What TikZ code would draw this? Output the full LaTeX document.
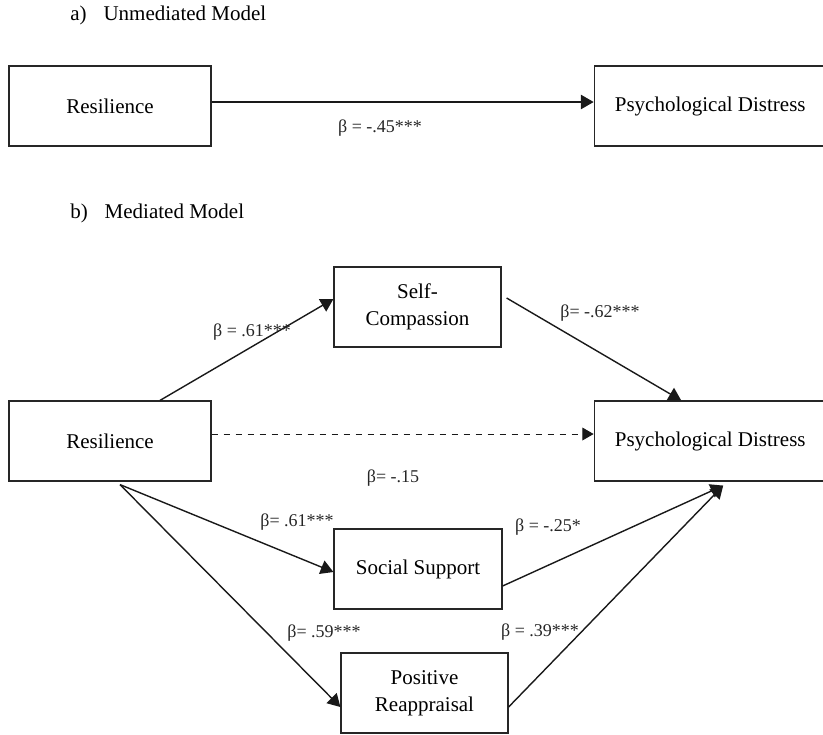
\documentclass[tikz,border=0pt]{standalone}
\usepackage{fontspec}
\setmainfont{Liberation Serif}
\usetikzlibrary{arrows}
\usetikzlibrary{positioning}
\tikzstyle{var}=[rectangle, draw=black!85, line width=0.6pt, minimum height=40pt, font=\fontsize{10.5}{13.5}\selectfont, align=center, inner sep=0pt]
\tikzstyle{path}=[->, line width=0.7pt, black!90]
\tikzstyle{coef}=[font=\fontsize{9}{11}\selectfont, inner sep=0pt, black!85]
\tikzstyle{title}=[font=\fontsize{10.5}{13.5}\selectfont, anchor=west, inner sep=0pt]

\begin{document}
\begin{tikzpicture}[>=triangle 60, x=0.5pt, y=-0.5pt]
    \clip (0,0) rectangle (823,734);
    % a) unmediated
    \node[title] (ta) at (70,15) {a)\hspace{0.8em}Unmediated Model};
    \node[var, minimum width=101pt] (resa) at (110,106) {Resilience};
    \node[var, minimum width=116pt, right=191pt of resa] (pda) {Psychological Distress};
    \draw[path] ([yshift=2pt]resa.east) -- ([yshift=2pt]pda.west);
    \node[coef] (ca) at (380,128) {β = -.45***};

    % b) mediated
    \node[title] (tb) at (70,213) {b)\hspace{0.8em}Mediated Model};
    \node[var, minimum width=101pt] (resb) at (110,441) {Resilience};
    \node[var, minimum width=116pt, right=191pt of resb] (pdb) {Psychological Distress};
    \node[var, minimum width=83.5pt] (sc) at (417.5,307) {Self-\\Compassion};
    \node[var, minimum width=84pt] (ss) at (418,569) {Social Support};
    \node[var, minimum width=83.5pt] (pr) at (424.5,693) {Positive\\Reappraisal};

    \draw[path] ([xshift=25pt]resb.north) -- ([yshift=4pt]sc.west);
    \draw[path] ([xshift=2.5pt,yshift=4.5pt]sc.east) -- ([xshift=-14.5pt]pdb.north);
    \draw[path, dashed, line width=0.5pt] ([yshift=3.5pt]resb.east) -- ([yshift=3.5pt]pdb.west);
    \draw[path] ([xshift=5pt,yshift=-1.5pt]resb.south) -- ([yshift=-1.5pt]ss.west);
    \draw[path] ([xshift=5pt,yshift=-1.5pt]resb.south) -- ([yshift=-7pt]pr.west);
    \draw[path] ([yshift=-8.5pt]ss.east) -- ([xshift=6.5pt,yshift=-2pt]pdb.south);
    \draw[path] ([yshift=-7pt]pr.east) -- ([xshift=6.5pt,yshift=-2pt]pdb.south);

    \node[coef] (c1) at (252,332) {β = .61***};
    \node[coef] (c2) at (600,313) {β= -.62***};
    \node[coef] (c3) at (393,478) {β= -.15};
    \node[coef] (c4) at (297,522) {β= .61***};
    \node[coef] (c5) at (324,633) {β= .59***};
    \node[coef] (c6) at (548,527) {β = -.25*};
    \node[coef] (c7) at (540,632) {β = .39***};
\end{tikzpicture}
\end{document}
